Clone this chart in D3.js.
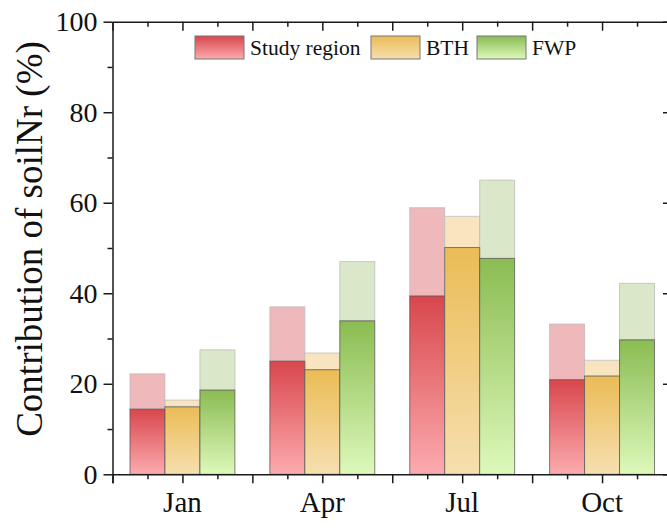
<!DOCTYPE html>
<html>
<head>
<meta charset="utf-8">
<script src="https://cdn.jsdelivr.net/npm/d3@7"></script>
<style>
  html, body { margin: 0; padding: 0; background: #fff; }
  svg text { font-family: "Liberation Serif", "Times New Roman", serif; }
</style>
</head>
<body>
<div id="chart"></div>
<script>
// data
const months = ["Jan", "Apr", "Jul", "Oct"];
const seriesNames = ["Study region", "BTH", "FWP"];
// lower (solid) part of each bar
const studyLow = [14.4, 25.0, 39.4, 20.9];
const bthLow   = [14.9, 23.1, 50.1, 21.7];
const fwpLow   = [18.6, 33.9, 47.7, 29.7];
// top of the light part of each bar
const studyHigh = [22.2, 37.0, 58.9, 33.2];
const bthHigh   = [16.4, 26.8, 57.0, 25.2];
const fwpHigh   = [27.5, 47.0, 65.0, 42.2];
const yTicks = [0, 20, 40, 60, 80, 100];

const lows = [studyLow, bthLow, fwpLow];
const highs = [studyHigh, bthHigh, fwpHigh];

const colors = [
  { top: "#d8474c", bottom: "#fcabaf", light: "#efb9bc" },
  { top: "#ebbc56", bottom: "#f6dfb0", light: "#f8e5c0" },
  { top: "#8bbc52", bottom: "#ddf9bb", light: "#dae8c9" }
];

const width = 667, height = 529;
const margin = { top: 21.7, left: 112.5, bottom: 474.3, right: 672 };
const serif = "'Liberation Serif', 'Times New Roman', serif";

const svg = d3.select("#chart").append("svg")
    .attr("width", width)
    .attr("height", height);

const defs = svg.append("defs");
colors.forEach(function(c, i) {
  const g = defs.append("linearGradient")
      .attr("id", "grad" + i)
      .attr("x1", 0).attr("y1", 0).attr("x2", 0).attr("y2", 1);
  g.append("stop").attr("offset", "0%").attr("stop-color", c.top);
  g.append("stop").attr("offset", "100%").attr("stop-color", c.bottom);
});

// x is a numeric axis (categories sit at 1..4), like the origin plot
const x = d3.scaleLinear().domain([0.5, 4.5]).range([margin.left, margin.right]);
const y = d3.scaleLinear().domain([0, 100]).range([margin.bottom, margin.top]);
const barW = 0.25;

// bars
const rows = [];
months.forEach(function(m, i) {
  seriesNames.forEach(function(s, j) {
    rows.push({ pos: i + 1, k: j, low: lows[j][i], high: highs[j][i] });
  });
});

const bars = svg.append("g");
// light upper part
bars.selectAll("rect.upper")
    .data(rows)
    .enter().append("rect")
    .attr("class", "upper")
    .attr("x", d => x(d.pos + (d.k - 1.5) * barW))
    .attr("width", x(barW) - x(0))
    .attr("y", d => y(d.high))
    .attr("height", d => y(d.low) - y(d.high))
    .attr("fill", d => colors[d.k].light)
    .attr("stroke", "#b8b8b8")
    .attr("stroke-opacity", 0.7)
    .attr("stroke-width", 1);
// gradient lower part
bars.selectAll("rect.lower")
    .data(rows)
    .enter().append("rect")
    .attr("class", "lower")
    .attr("x", d => x(d.pos + (d.k - 1.5) * barW))
    .attr("width", x(barW) - x(0))
    .attr("y", d => y(d.low))
    .attr("height", d => y(0) - y(d.low))
    .attr("fill", d => "url(#grad" + d.k + ")")
    .attr("stroke", "#555")
    .attr("stroke-opacity", 0.75)
    .attr("stroke-width", 1);

// axes
const axisColor = "#1a1a1a";
const xMajor = d3.range(0.5, 4.51, 0.5);
const xMinor = d3.range(0.75, 4.5, 0.5);
const yMinor = d3.range(10, 100, 20);

svg.append("g")
    .attr("transform", `translate(0,${margin.bottom})`)
    .call(d3.axisBottom(x).tickValues(xMajor).tickSize(9).tickFormat(""))
    .call(g => g.select(".domain").attr("stroke-width", 1.5));
svg.append("g")
    .attr("transform", `translate(0,${margin.bottom})`)
    .call(d3.axisBottom(x).tickValues(xMinor).tickSize(5).tickFormat(""))
    .call(g => g.select(".domain").remove());
svg.append("g")
    .attr("transform", `translate(0,${margin.top})`)
    .call(d3.axisBottom(x).tickValues(xMajor).tickSize(9).tickSizeOuter(0).tickFormat(""))
    .call(g => g.select(".domain").attr("stroke-width", 1.5));
svg.append("g")
    .attr("transform", `translate(0,${margin.top})`)
    .call(d3.axisBottom(x).tickValues(xMinor).tickSize(5).tickFormat(""))
    .call(g => g.select(".domain").remove());

svg.append("g")
    .attr("transform", `translate(${margin.left},0)`)
    .call(d3.axisLeft(y).tickValues(yTicks).tickSize(9).tickSizeOuter(0).tickPadding(6))
    .call(g => g.select(".domain").attr("stroke-width", 1.5))
    .call(g => g.attr("font-family", serif))
    .call(g => g.selectAll("text").attr("font-size", 28).attr("fill", "#111"));
svg.append("g")
    .attr("transform", `translate(${margin.left},0)`)
    .call(d3.axisLeft(y).tickValues(yMinor).tickSize(5).tickFormat(""))
    .call(g => g.select(".domain").remove());
svg.append("g")
    .attr("transform", `translate(${margin.right},0)`)
    .call(d3.axisRight(y).tickValues(yTicks).tickSize(-9).tickSizeOuter(0).tickFormat(""))
    .call(g => g.select(".domain").attr("stroke-width", 1.5));
svg.append("g")
    .attr("transform", `translate(${margin.right},0)`)
    .call(d3.axisRight(y).tickValues(yMinor).tickSize(-5).tickFormat(""))
    .call(g => g.select(".domain").remove());

svg.selectAll(".tick line").attr("stroke", axisColor).attr("stroke-width", 1.5);
svg.selectAll(".domain").attr("stroke", axisColor);

// month labels
svg.append("g").selectAll("text")
    .data(months)
    .enter().append("text")
    .attr("x", (d, i) => x(i + 1))
    .attr("y", 512)
    .attr("text-anchor", "middle")
    .attr("font-family", serif)
    .attr("font-size", 29)
    .attr("fill", "#111")
    .text(d => d);

// y title
svg.append("text")
    .attr("transform", "translate(42,239) rotate(-90)")
    .attr("text-anchor", "middle")
    .attr("font-family", serif)
    .attr("font-size", 37)
    .attr("fill", "#111")
    .text("Contribution of soilNr (%)");

// legend
const legendX = [195, 371, 477];
const legend = svg.append("g");
const entry = legend.selectAll("g")
    .data(seriesNames)
    .enter().append("g")
    .attr("transform", (d, i) => `translate(${legendX[i]},36)`);
entry.append("rect")
    .attr("width", 49)
    .attr("height", 23)
    .attr("fill", (d, i) => "url(#grad" + i + ")")
    .attr("stroke", "#777")
    .attr("stroke-width", 1);
entry.append("text")
    .attr("x", 55)
    .attr("y", 19)
    .attr("font-family", serif)
    .attr("font-size", 21.5)
    .attr("fill", "#111")
    .text(d => d);
</script>
</body>
</html>
